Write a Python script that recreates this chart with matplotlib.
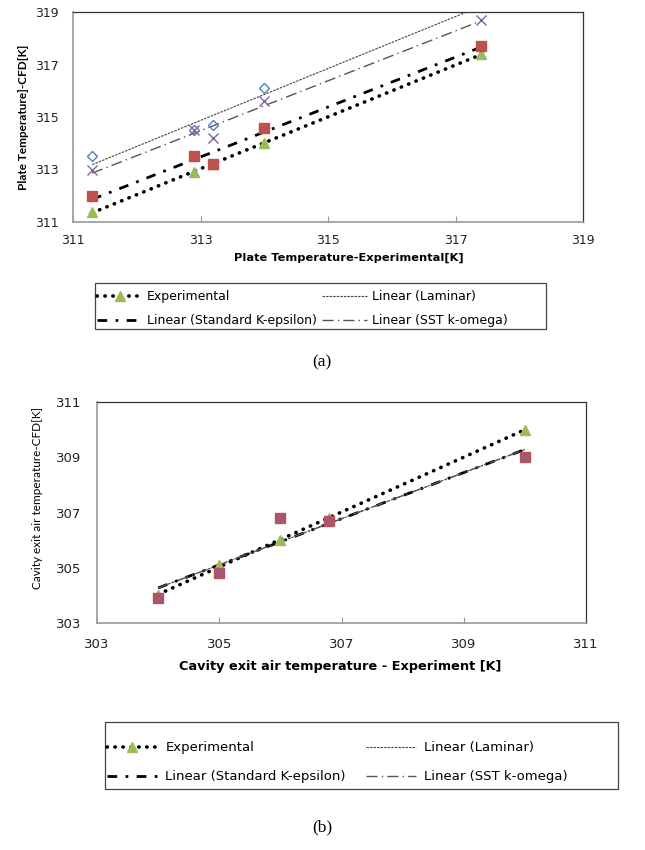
import matplotlib
matplotlib.use("Agg")
import numpy as np
import matplotlib.pyplot as plt
from matplotlib.legend_handler import HandlerTuple
from matplotlib.patches import Rectangle

# ---------------------------------------------------------------------------
# Data
# ---------------------------------------------------------------------------
# (a) plate temperature
plate_x = [311.3, 312.9, 313.2, 314.0, 317.4]
plate_experimental = [311.4, 312.9, 313.2, 314.0, 317.4]
plate_laminar = [313.5, 314.5, 314.7, 316.1, 319.3]
plate_k_eps = [312.0, 313.5, 313.2, 314.6, 317.7]
plate_sst = [313.0, 314.5, 314.2, 315.6, 318.7]
plate_ticks = [311, 313, 315, 317, 319]

# (b) cavity exit air temperature
cavity_x = [304.0, 305.0, 306.0, 306.8, 310.0]
cavity_experimental = [304.0, 305.1, 306.0, 306.8, 310.0]
cavity_laminar = [303.9, 304.8, 306.8, 306.7, 309.0]
cavity_k_eps = [303.9, 304.8, 306.8, 306.7, 309.0]
cavity_sst = [303.9, 304.8, 306.8, 306.7, 309.0]
cavity_ticks = [303, 305, 307, 309, 311]

# legend order (matplotlib fills column-wise): rows are
#   Experimental | Linear (Laminar)
#   Linear (Standard K-epsilon) | Linear (SST k-omega)
labels = ["Experimental", "Linear (Standard K-epsilon)",
          "Linear (Laminar)", "Linear (SST k-omega)"]

# marker + trend-line styles, in Excel series order
MARKERS = [
    dict(marker="^", ms=7.5, color="#9BBB59", mec="#9BBB59"),
    dict(marker="D", ms=5.5, mfc="none", mec="#4F81BD", mew=1.0),
    dict(marker="s", ms=6.5, color="#C0504D", mec="#C0504D"),
    dict(marker="x", ms=7, color="#8064A2", mew=1.0),
]
TRENDS = [
    dict(color="black", lw=2.6, ls=(0, (0.1, 2.1)), dash_capstyle="round"),
    dict(color="#444444", lw=0.8, ls=(0, (2.2, 1.0))),
    dict(color="black", lw=2.0, ls=(0, (3.5, 3.0, 1.0, 3.0))),
    dict(color="#555555", lw=1.0, ls=(0, (8, 3, 1, 3))),
]


def draw_panel(ax, x, series, ticks, tick_size):
    trends = []
    pts = []
    for y, mk in zip(series, MARKERS):
        p, = ax.plot(x, y, ls="none", zorder=3, **mk)
        pts.append(p)
    for y, st in zip(series, TRENDS):
        k, b = np.polyfit(x, y, 1)
        xs = np.array([min(x), max(x)])
        t, = ax.plot(xs, k * xs + b, zorder=2, **st)
        trends.append(t)
    handles = [(trends[0], pts[0]), trends[2], trends[1], trends[3]]

    ax.set_xlim(ticks[0], ticks[-1])
    ax.set_ylim(ticks[0], ticks[-1])
    ax.set_xticks(ticks)
    ax.set_yticks(ticks)
    for side in ("top", "right"):
        ax.spines[side].set_color("#333333")
        ax.spines[side].set_linewidth(0.9)
    for side in ("left", "bottom"):
        ax.spines[side].set_color("#999999")
        ax.spines[side].set_linewidth(1.2)
    ax.tick_params(axis="x", direction="in", length=4, color="#999999",
                   labelsize=tick_size, pad=9, labelcolor="#222222")
    ax.tick_params(axis="y", length=0, labelsize=tick_size, pad=10,
                   labelcolor="#222222")
    return handles


plt.rcParams["font.family"] = "DejaVu Sans"
fig = plt.figure(figsize=(6.45, 8.5), dpi=100)
W, H = 645.0, 850.0


def px_axes(left, top, right, bottom):
    return fig.add_axes([left / W, 1 - bottom / H, (right - left) / W, (bottom - top) / H])


# ── (a) ───────────────────────────────────────────────────────────────────
ax1 = px_axes(73, 12, 583, 222)
h1 = draw_panel(ax1, plate_x,
                [plate_experimental, plate_laminar, plate_k_eps, plate_sst],
                plate_ticks, 9)
ax1.set_xlabel("Plate Temperature-Experimental[K]",
               fontweight="bold", fontsize=8.2, va="center")
ax1.xaxis.set_label_coords(0.54, -0.171)
ax1.set_ylabel("Plate Temperature]-CFD[K]", family="Lato",
               fontweight="bold", fontsize=8.5, va="center")
ax1.yaxis.set_label_coords(-0.098, 0.5)

fig.patches.append(Rectangle((95 / W, 1 - 329 / H), 451 / W, 46 / H,
                             transform=fig.transFigure, fill=False,
                             ec="#444444", lw=0.9))
fig.legend(h1, labels, loc="upper left",
           bbox_to_anchor=(96 / W, 1 - 289 / H), ncol=2, frameon=False,
           numpoints=1, handlelength=3.6, handletextpad=0.4,
           columnspacing=0.4, labelspacing=0.85, borderpad=0.1,
           borderaxespad=0, handler_map={tuple: HandlerTuple(ndivide=1)},
           prop=dict(size=9))

fig.text(322 / W, 1 - 362 / H, "(a)", family="Liberation Serif",
         fontsize=12.5, ha="center", va="center")

# ── (b) ───────────────────────────────────────────────────────────────────
ax2 = px_axes(97, 402, 586, 623)
h2 = draw_panel(ax2, cavity_x,
                [cavity_experimental, cavity_laminar, cavity_k_eps, cavity_sst],
                cavity_ticks, 9.5)
ax2.tick_params(axis="x", pad=11)
ax2.tick_params(axis="y", pad=11)
ax2.set_xlabel("Cavity exit air temperature - Experiment [K]",
               fontweight="bold", fontsize=9.3, va="center")
ax2.xaxis.set_label_coords(0.497, -0.199)
ax2.set_ylabel("Cavity exit air temperature-CFD[K]", family="Lato",
               fontsize=8.5, va="center")
ax2.yaxis.set_label_coords(-0.121, 0.566)

fig.patches.append(Rectangle((105 / W, 1 - 789 / H), 513 / W, 67 / H,
                             transform=fig.transFigure, fill=False,
                             ec="#444444", lw=0.9))
fig.legend(h2, labels, loc="upper left",
           bbox_to_anchor=(106 / W, 1 - 740 / H), ncol=2, frameon=False,
           numpoints=1, handlelength=3.8, handletextpad=0.6,
           columnspacing=1.5, labelspacing=1.2, borderpad=0.1,
           borderaxespad=0, handler_map={tuple: HandlerTuple(ndivide=1)},
           prop=dict(size=9.5))

fig.text(322 / W, 1 - 827 / H, "(b)", family="Liberation Serif",
         fontsize=12.5, ha="center", va="center")

fig.savefig("out.png", dpi=100)
